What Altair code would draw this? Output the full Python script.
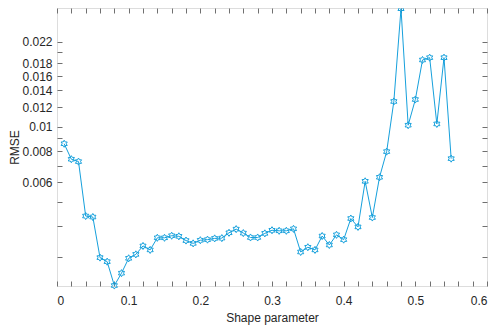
import altair as alt
import pandas as pd

# Shape parameter values
shape = [round(0.01 * i, 2) for i in range(1, 56)]
# RMSE
rmse = [0.00856, 0.00742, 0.00726, 0.00439, 0.00435, 0.00299, 0.00288, 0.00231,
        0.00259, 0.00297, 0.00308, 0.00333, 0.00321, 0.00359, 0.00359, 0.00366,
        0.00364, 0.00350, 0.00341, 0.00351, 0.00353, 0.00357, 0.00358, 0.00376,
        0.00389, 0.00375, 0.00360, 0.00360, 0.00374, 0.00385, 0.00383, 0.00383,
        0.00390, 0.00315, 0.00329, 0.00321, 0.00365, 0.00336, 0.00369, 0.00353,
        0.00429, 0.00397, 0.00605, 0.00433, 0.00628, 0.00796, 0.01265, 0.02980,
        0.01016, 0.01288, 0.01856, 0.01896, 0.01028, 0.01896, 0.00746]

x_labels = [0, 0.1, 0.2, 0.3, 0.4, 0.5, 0.6]
x_ticks = [round(0.02 * i, 2) for i in range(0, 31)]
y_labels = [0.006, 0.008, 0.01, 0.012, 0.014, 0.016, 0.018, 0.02, 0.022]
y_ticks = [0.003, 0.004, 0.005, 0.006, 0.007, 0.008, 0.009, 0.01, 0.012, 0.014,
           0.016, 0.018, 0.02, 0.022]

df = pd.DataFrame({"x": shape, "y": rmse})

COLOR = "#16a0dc"
TEXT = "#262626"
FRAME = "#707070"
FONT = "Liberation Sans"
HEX = ("M0,-1L0.289,-0.5L0.866,-0.5L0.577,0L0.866,0.5L0.289,0.5L0,1"
       "L-0.289,0.5L-0.866,0.5L-0.577,0L-0.866,-0.5L-0.289,-0.5Z")

xscale = alt.Scale(domain=[0, 0.6], nice=False, zero=False)
yscale = alt.Scale(type="log", domain=[0.0023, 0.03], nice=False)

base = alt.Chart(df)

line = base.mark_line(color=COLOR, strokeWidth=1).encode(
    x=alt.X("x:Q", scale=xscale,
            axis=alt.Axis(orient="bottom", values=x_labels, format="~g",
                          ticks=False, tickSize=0, domain=False, grid=False,
                          labelPadding=9, labelFontSize=12, labelColor=TEXT,
                          labelFont=FONT, title="Shape parameter",
                          titleFontSize=12, titleFont=FONT, titleColor=TEXT,
                          titleFontWeight="normal", titlePadding=6)),
    y=alt.Y("y:Q", scale=yscale,
            axis=alt.Axis(orient="left", values=y_labels, format="~g",
                          ticks=False, tickSize=0, domain=False, grid=False,
                          labelPadding=5, labelFontSize=12, labelColor=TEXT,
                          labelFont=FONT, title="RMSE", titleFontSize=12,
                          titleFont=FONT, titleColor=TEXT,
                          titleFontWeight="normal", titlePadding=0)),
)

points = base.mark_point(shape=HEX, size=50, filled=False, color=COLOR,
                         strokeWidth=1, opacity=1).encode(
    x=alt.X("x:Q", scale=xscale, axis=None),
    y=alt.Y("y:Q", scale=yscale, axis=None),
)


def tick_axis(orient, values):
    return alt.Axis(orient=orient, values=values, offset=-5, tickSize=5,
                    ticks=True, tickColor=FRAME, tickWidth=1, labels=False,
                    domain=False, grid=False, title=None)


ticks1 = base.mark_point(opacity=0).encode(
    x=alt.X("x:Q", scale=xscale, axis=tick_axis("bottom", x_ticks)),
    y=alt.Y("y:Q", scale=yscale, axis=tick_axis("left", y_ticks)),
)
ticks2 = base.mark_point(opacity=0).encode(
    x=alt.X("x:Q", scale=xscale, axis=tick_axis("top", x_ticks)),
    y=alt.Y("y:Q", scale=yscale, axis=tick_axis("right", y_ticks)),
)

chart = alt.layer(line, points, ticks1, ticks2).resolve_axis(
    x="independent", y="independent"
).properties(
    width=430, height=278,
    autosize=alt.AutoSizeParams(type="none"),
    padding={"left": 49, "top": 0, "right": 3, "bottom": 42},
).configure_view(stroke=FRAME, strokeWidth=1).configure(background="white")

chart.save("out.html", embed_options={"renderer": "svg", "actions": False})
